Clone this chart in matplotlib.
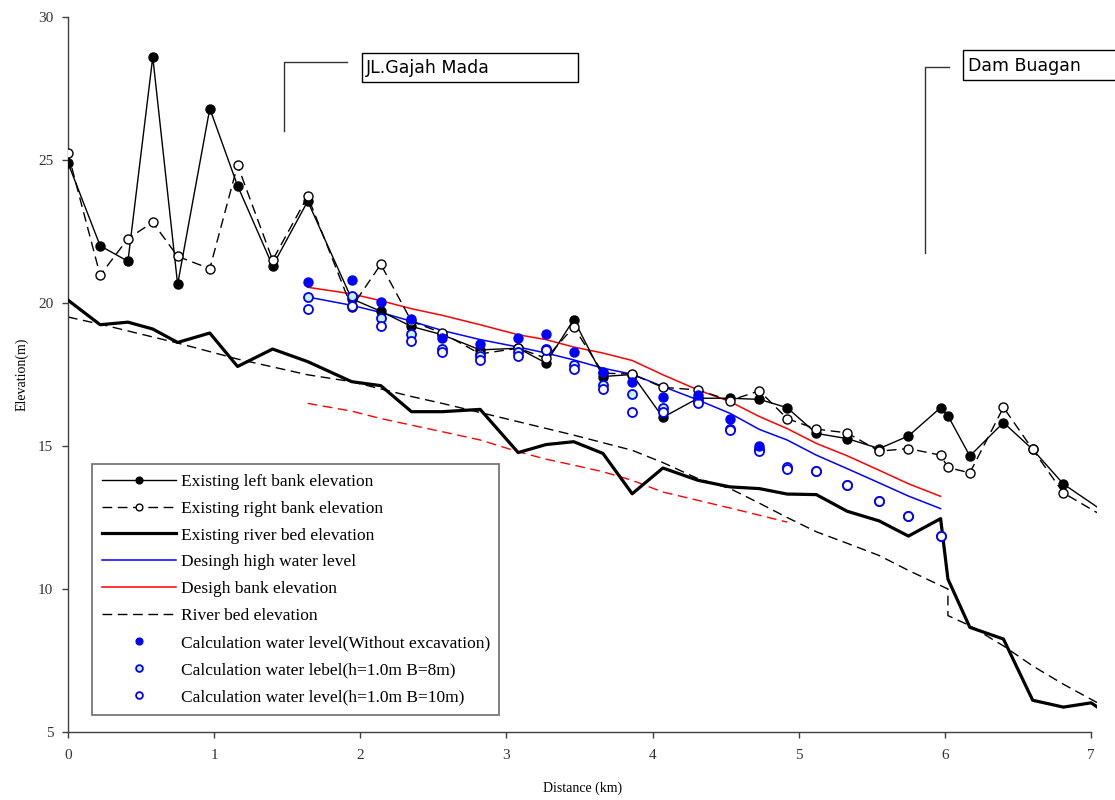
import matplotlib
matplotlib.use("Agg")
import matplotlib.pyplot as plt
from matplotlib.patches import Rectangle

# ---------------- data ----------------
bank_x = [0, 0.22, 0.41, 0.58, 0.75, 0.97, 1.16, 1.40, 1.64, 1.94, 2.14, 2.35, 2.56, 2.82,
          3.08, 3.27, 3.46, 3.66, 3.86, 4.07, 4.31, 4.53, 4.73, 4.92, 5.12, 5.33, 5.55,
          5.75, 5.97, 6.02, 6.17, 6.40, 6.60, 6.81, 7.04]
left_bank = [24.9, 22.0, 21.46, 28.6, 20.65, 26.8, 24.1, 21.3, 23.56, 20.15, 19.71, 19.18,
             18.89, 18.36, 18.42, 17.9, 19.42, 17.43, 17.5, 16.0, 16.67, 16.67, 16.63, 16.34,
             15.44, 15.26, 14.91, 15.35, 16.34, 16.06, 14.65, 15.82, 14.88, 13.67, 12.87]
right_bank = [25.24, 20.97, 22.25, 22.82, 21.63, 21.2, 24.82, 21.5, 23.73, 19.85, 21.35, 19.36,
              18.95, 18.22, 18.42, 18.07, 19.16, 17.55, 17.51, 17.05, 16.96, 16.59, 16.93, 15.96,
              15.59, 15.46, 14.82, 14.91, 14.68, 14.25, 14.06, 16.35, 14.88, 13.36, 12.67]

bed_x = [0, 0.22, 0.41, 0.58, 0.75, 0.97, 1.16, 1.40, 1.64, 1.94, 2.14, 2.35, 2.56, 2.82,
         3.08, 3.27, 3.46, 3.66, 3.86, 4.07, 4.31, 4.53, 4.73, 4.92, 5.12, 5.33, 5.55,
         5.75, 5.97, 6.02, 6.17, 6.40, 6.60, 6.81, 7.00, 7.04]
bed_existing = [20.1, 19.24, 19.33, 19.09, 18.62, 18.95, 17.78, 18.39, 17.95, 17.25, 17.11, 16.2,
                16.2, 16.28, 14.77, 15.05, 15.15, 14.74, 13.33, 14.23, 13.8, 13.57, 13.51, 13.32,
                13.3, 12.72, 12.38, 11.85, 12.46, 10.35, 8.66, 8.25, 6.11, 5.87, 6.02, 5.88]

plan_x = [0, 0.22, 0.75, 0.97, 1.16, 1.64, 1.94, 2.35, 2.56, 3.08, 3.46, 3.86, 4.07, 4.31,
          4.53, 4.73, 4.92, 5.12, 5.33, 5.55, 5.75, 6.02, 6.02, 6.17, 6.40, 6.60, 6.81, 7.04]
bed_plan = [19.51, 19.26, 18.6, 18.3, 18.04, 17.49, 17.25, 16.73, 16.49, 15.85, 15.38, 14.85,
            14.42, 13.86, 13.51, 13.0, 12.5, 12.0, 11.6, 11.17, 10.65, 10.0, 9.07, 8.72, 8.01,
            7.31, 6.67, 6.03]

design_x = [1.64, 1.94, 2.14, 2.35, 2.56, 2.82, 3.08, 3.27, 3.46, 3.66, 3.86, 4.07, 4.31,
            4.53, 4.73, 4.92, 5.12, 5.33, 5.55, 5.75, 5.97]
design_hwl = [20.21, 19.92, 19.67, 19.36, 19.04, 18.72, 18.46, 18.25, 18.01, 17.72, 17.51,
              17.08, 16.61, 16.14, 15.58, 15.21, 14.68, 14.21, 13.71, 13.25, 12.81]
design_bank = [20.55, 20.32, 20.08, 19.8, 19.57, 19.24, 18.89, 18.72, 18.46, 18.25, 17.99,
               17.49, 16.96, 16.55, 16.03, 15.61, 15.09, 14.66, 14.15, 13.68, 13.24]

red_dash_x = design_x[:16]
red_dash = [16.49, 16.22, 15.96, 15.73, 15.5, 15.21, 14.8, 14.54, 14.33, 14.1, 13.8, 13.39,
            13.1, 12.83, 12.58, 12.34]

calc_x = design_x[:15]
calc_noexc = [20.74, 20.79, 20.03, 19.45, 18.77, 18.58, 18.77, 18.93, 18.27, 17.57, 17.25,
              16.73, 16.79, 15.93, 15.0]
calc_b8 = [20.21, 20.26, 19.49, 18.93, 18.39, 18.13, 18.28, 18.39, 17.82, 17.14, 16.82, 16.32,
           16.58, 15.59, 14.91, 14.27, 14.12, 13.65, 13.07, 12.54, 11.87]
calc_b10 = [19.79, 19.91, 19.21, 18.68, 18.27, 18.01, 18.15, 18.35, 17.7, 16.98, 16.2, 16.2,
            16.49, 15.55, 14.83, 14.21, 14.12, 13.65, 13.07, 12.54, 11.87]

labels = ["Existing left bank elevation", "Existing right bank elevation",
          "Existing river bed elevation", "Desingh high water level",
          "Desigh bank elevation", "River bed elevation",
          "Calculation water level(Without excavation)",
          "Calculation water lebel(h=1.0m B=8m)",
          "Calculation water level(h=1.0m B=10m)"]
place_names = ["JL.Gajah Mada", "Dam Buagan"]
x_ticks = [0, 1, 2, 3, 4, 5, 6, 7]
y_ticks = [5, 10, 15, 20, 25, 30]

# ---------------- figure ----------------
serif = ["Liberation Serif", "DejaVu Serif"]
fig = plt.figure(figsize=(11.15, 8.0), dpi=100)
ax = fig.add_axes([68 / 1115, 1 - 732 / 800, (1097 - 68) / 1115, (732 - 17) / 800])
ax.set_xlim(0, 7.04)
ax.set_ylim(5, 30)

dash = (0, (7, 4))
ms = 6.5
h_left, = ax.plot(bank_x, left_bank, color="black", lw=1.0, marker="o", ms=ms,
                  mfc="black", mec="black", markevery=slice(0, -1), zorder=4)
h_right, = ax.plot(bank_x, right_bank, color="black", lw=1.0, ls=dash, marker="o", ms=ms,
                   mfc="white", mec="black", mew=1.0, markevery=slice(0, -1), zorder=4)
h_bed, = ax.plot(bed_x, bed_existing, color="black", lw=2.3, zorder=3)
h_hwl, = ax.plot(design_x, design_hwl, color="#0000ff", lw=1.1, zorder=3)
h_bank, = ax.plot(design_x, design_bank, color="#ff0000", lw=1.1, zorder=3)
h_plan, = ax.plot(plan_x, bed_plan, color="black", lw=1.0, ls=dash, zorder=2)
ax.plot(red_dash_x, red_dash, color="#ff0000", lw=1.0, ls=dash, zorder=2)
h_c0, = ax.plot(calc_x, calc_noexc, ls="none", marker="o", ms=ms, mfc="#0000ff",
                mec="#0000ff", zorder=6)
h_c8, = ax.plot(design_x, calc_b8, ls="none", marker="o", ms=ms, mfc="#c4f0ff",
                mec="#0000ff", mew=1.3, zorder=5)
h_c10, = ax.plot(design_x, calc_b10, ls="none", marker="o", ms=ms, mfc="white",
                 mec="#0000ff", mew=1.3, zorder=5)

# axes styling
for s in ["top", "right"]:
    ax.spines[s].set_visible(False)
ax.spines["bottom"].set_bounds(0, 7)
for s in ["left", "bottom"]:
    ax.spines[s].set_color("#404040")
    ax.spines[s].set_linewidth(1.0)
ax.set_xticks(x_ticks)
ax.set_yticks(y_ticks)
ax.tick_params(axis="both", direction="out", length=4.5, width=1.0, color="#404040",
               labelsize=11, labelcolor="#333333")
ax.tick_params(axis="x", pad=8)
ax.tick_params(axis="y", pad=6)
for lab in ax.get_xticklabels() + ax.get_yticklabels():
    lab.set_family(serif)
ax.set_xlabel("Distance (km)", family=serif, fontsize=10, labelpad=14)
ax.set_ylabel("Elevation(m)", family=serif, fontsize=10, labelpad=7)

# annotations (bracket lines + boxed labels)
ax.plot([1.91, 1.48, 1.48], [28.41, 28.41, 26.02], color="#333333", lw=1.0, clip_on=False)
ax.add_patch(Rectangle((2.01, 27.74), 1.48, 0.99, fc="white", ec="black", lw=1.0,
                       clip_on=False, zorder=7))
ax.text(2.04, 28.22, place_names[0], family=["DejaVu Sans"], fontsize=12.5, va="center",
        ha="left", zorder=8)
ax.plot([6.03, 5.86, 5.86], [28.24, 28.24, 21.74], color="#333333", lw=1.0, clip_on=False)
ax.add_patch(Rectangle((6.12, 27.81), 1.5, 1.02, fc="white", ec="black", lw=1.0,
                       clip_on=False, zorder=7))
ax.text(6.155, 28.3, place_names[1], family=["DejaVu Sans"], fontsize=12.5, va="center",
        ha="left", zorder=8, clip_on=False)

# legend
handles = [h_left, h_right, h_bed, h_hwl, h_bank, h_plan, h_c0, h_c8, h_c10]
leg = fig.legend(handles, labels, loc="upper left",
                 bbox_to_anchor=(92 / 1115, 1 - 464 / 800), frameon=True, fancybox=False,
                 prop={"family": serif, "size": 12.5}, handlelength=4.3, handletextpad=0.25,
                 labelspacing=0.62, borderpad=0.55, borderaxespad=0, markerscale=0.75)
leg.get_frame().set_edgecolor("#555555")
leg.get_frame().set_linewidth(1.3)

fig.savefig("out.png", dpi=100)
